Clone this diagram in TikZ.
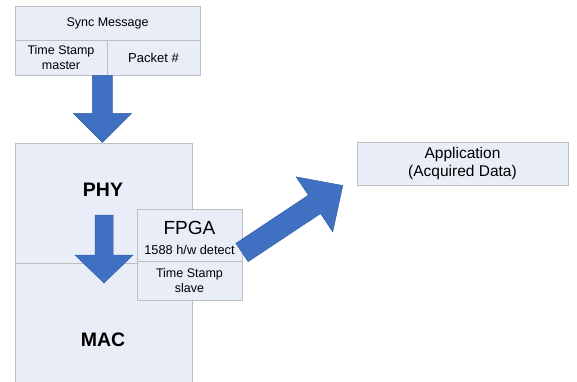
\documentclass[tikz,border=0pt]{standalone}
\usepackage{fontspec}
\setmainfont{Liberation Sans}
\usepackage{tikz}
\usetikzlibrary{positioning}

\definecolor{boxfill}{RGB}{233,237,248}
\definecolor{boxline}{RGB}{188,190,196}
\definecolor{arrowblue}{RGB}{64,112,194}

\tikzset{
	layerbox/.style={draw=boxline, fill=boxfill, line width=0.8pt, inner sep=0pt, align=center},
	blockarrow/.style={fill=arrowblue, draw=arrowblue!85!black, line width=0.5pt, line join=miter}
}

\begin{document}
\begin{tikzpicture}[x=1pt, y=-1pt, line cap=round, line join=round]
		\useasboundingbox (0,0) rectangle (577,381);
		
		% sync message frame
		\node[layerbox, minimum width=185pt, minimum height=34pt, font=\fontsize{12.5}{14}\selectfont] (sync) at (107.5,23) {Sync Message};
		\node[layerbox, minimum width=92pt, minimum height=35pt, font=\fontsize{12.5}{14.5}\selectfont] (tsmaster) at (61,57.5) {Time Stamp\\master};
		\node[layerbox, minimum width=93pt, minimum height=35pt, font=\fontsize{13}{14}\selectfont] (packet) at (153.5,57.5) {Packet \#};
		
		\begin{scope}[shift={([xshift=-5pt]tsmaster.south east)}, rotate=-90]
			\fill[blockarrow] (0,-10) -- (38,-10) -- (38,-29) -- (67,0) -- (38,29) -- (38,10) -- (0,10) -- cycle;
		\end{scope}
		
		% PHY / MAC stack
		\node[layerbox, minimum width=177pt, minimum height=120pt] (phy) at (103.5,203) {};
		\node[font=\fontsize{19.5}{22}\selectfont\bfseries] (phylabel) at (103,190) {PHY};
		\node[layerbox, minimum width=177pt, minimum height=124pt] (mac) at (103.5,325) {};
		\node[font=\fontsize{19.5}{22}\selectfont\bfseries] (maclabel) at (103,340) {MAC};
		
		\begin{scope}[shift={(104,215)}, rotate=-90]
			\fill[blockarrow] (0,-9) -- (40,-9) -- (40,-29) -- (68,0) -- (40,29) -- (40,9) -- (0,9) -- cycle;
		\end{scope}
		
		% FPGA timestamping
		\node[layerbox, minimum width=105pt, minimum height=52pt] (fpga) at (189.5,235) {};
		\node[font=\fontsize{19}{21}\selectfont] (fpgalabel) at (189.5,228) {FPGA};
		\node[font=\fontsize{12.8}{14}\selectfont] (detect) at (189.5,250) {1588 h/w detect};
		\node[layerbox, minimum width=105pt, minimum height=39pt, font=\fontsize{12.5}{15.5}\selectfont] (tsslave) at (189.5,280.5) {Time Stamp\\slave};
		
		% application
		\node[layerbox, minimum width=211pt, minimum height=43pt, font=\fontsize{15.5}{18}\selectfont] (app) at (462.5,163.5) {Application\\(Acquired Data)};
		
		\begin{scope}[shift={(242,252.5)}, rotate=33.6]
			\fill[blockarrow] (0,-11) -- (87,-11) -- (87,-33) -- (121,0) -- (87,33) -- (87,11) -- (0,11) -- cycle;
		\end{scope}
	\end{tikzpicture}
\end{document}
